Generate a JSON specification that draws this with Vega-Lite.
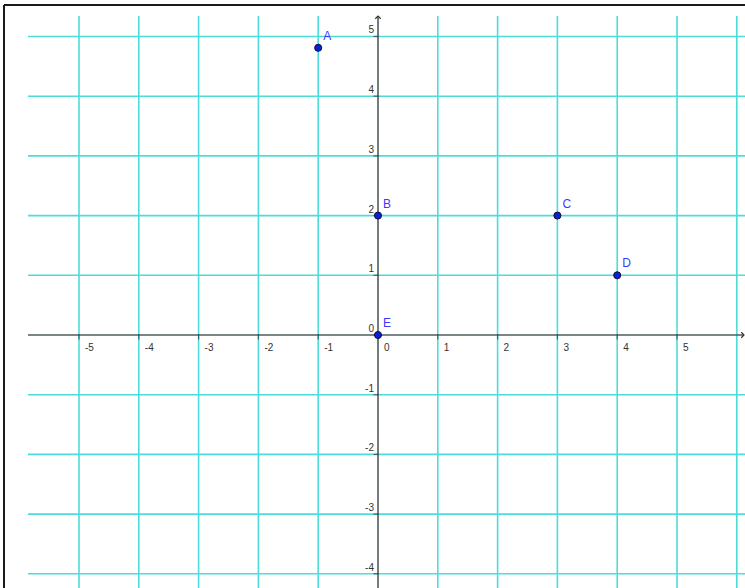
{
  "$schema": "https://vega.github.io/schema/vega-lite/v6.json",
  "width": 745,
  "height": 588,
  "autosize": {"type": "none"},
  "padding": 0,
  "background": "white",
  "config": {"view": {"stroke": null}},
  "datasets": {
    "vgrid": [
      {"x": -5, "y1": -4.3, "y2": 5.343}, {"x": -4, "y1": -4.3, "y2": 5.343},
      {"x": -3, "y1": -4.3, "y2": 5.343}, {"x": -2, "y1": -4.3, "y2": 5.343},
      {"x": -1, "y1": -4.3, "y2": 5.343}, {"x": 1, "y1": -4.3, "y2": 5.343},
      {"x": 2, "y1": -4.3, "y2": 5.343}, {"x": 3, "y1": -4.3, "y2": 5.343},
      {"x": 4, "y1": -4.3, "y2": 5.343}, {"x": 5, "y1": -4.3, "y2": 5.343},
      {"x": 6, "y1": -4.3, "y2": 5.343}
    ],
    "hgrid": [
      {"y": -4, "x1": -5.853, "x2": 6.3}, {"y": -3, "x1": -5.853, "x2": 6.3},
      {"y": -2, "x1": -5.853, "x2": 6.3}, {"y": -1, "x1": -5.853, "x2": 6.3},
      {"y": 1, "x1": -5.853, "x2": 6.3}, {"y": 2, "x1": -5.853, "x2": 6.3},
      {"y": 3, "x1": -5.853, "x2": 6.3}, {"y": 4, "x1": -5.853, "x2": 6.3},
      {"y": 5, "x1": -5.853, "x2": 6.3}
    ],
    "xaxis": [{"y": 0, "x1": -5.853, "x2": 6.12}],
    "yaxis": [{"x": 0, "y1": -4.3, "y2": 5.343}],
    "xarrow": [{"x": 6.12, "y": 0}],
    "yarrow": [{"x": 0, "y": 5.343}],
    "xticks": [
      {"x": -5, "label": "-5"}, {"x": -4, "label": "-4"}, {"x": -3, "label": "-3"},
      {"x": -2, "label": "-2"}, {"x": -1, "label": "-1"}, {"x": 0, "label": "0"},
      {"x": 1, "label": "1"}, {"x": 2, "label": "2"}, {"x": 3, "label": "3"},
      {"x": 4, "label": "4"}, {"x": 5, "label": "5"}
    ],
    "yticks": [
      {"y": -4, "label": "-4"}, {"y": -3, "label": "-3"}, {"y": -2, "label": "-2"},
      {"y": -1, "label": "-1"}, {"y": 0, "label": "0"}, {"y": 1, "label": "1"},
      {"y": 2, "label": "2"}, {"y": 3, "label": "3"}, {"y": 4, "label": "4"},
      {"y": 5, "label": "5"}
    ],
    "frameTop": [{"y": 5.528, "x1": -6.254, "x2": 6.3}],
    "frameLeft": [{"x": -6.254, "y1": -4.3, "y2": 5.528}],
    "points": [
      {"name": "A", "x": -1, "y": 4.81},
      {"name": "B", "x": 0, "y": 2},
      {"name": "C", "x": 3, "y": 2},
      {"name": "D", "x": 4, "y": 1},
      {"name": "E", "x": 0, "y": 0}
    ]
  },
  "encoding": {},
  "layer": [
    {
      "data": {"name": "vgrid"},
      "mark": {"type": "rule", "color": "#4ddcdc", "strokeWidth": 1.6},
      "encoding": {
        "x": {"field": "x", "type": "quantitative", "scale": {"domain": [-6.321, 6.137], "zero": false, "nice": false}, "axis": null},
        "y": {"field": "y1", "type": "quantitative", "scale": {"domain": [-4.238, 5.611], "zero": false, "nice": false}, "axis": null},
        "y2": {"field": "y2"}
      }
    },
    {
      "data": {"name": "hgrid"},
      "mark": {"type": "rule", "color": "#4ddcdc", "strokeWidth": 1.6},
      "encoding": {
        "x": {"field": "x1", "type": "quantitative"},
        "x2": {"field": "x2"},
        "y": {"field": "y", "type": "quantitative"}
      }
    },
    {
      "data": {"name": "frameTop"},
      "mark": {"type": "rule", "color": "#1a1a1a", "strokeWidth": 2},
      "encoding": {
        "x": {"field": "x1", "type": "quantitative"},
        "x2": {"field": "x2"},
        "y": {"field": "y", "type": "quantitative"}
      }
    },
    {
      "data": {"name": "frameLeft"},
      "mark": {"type": "rule", "color": "#1a1a1a", "strokeWidth": 2},
      "encoding": {
        "x": {"field": "x", "type": "quantitative"},
        "y": {"field": "y1", "type": "quantitative"},
        "y2": {"field": "y2"}
      }
    },
    {
      "data": {"name": "xaxis"},
      "mark": {"type": "rule", "color": "#4f5c5c", "strokeWidth": 1.6},
      "encoding": {
        "x": {"field": "x1", "type": "quantitative"},
        "x2": {"field": "x2"},
        "y": {"field": "y", "type": "quantitative"}
      }
    },
    {
      "data": {"name": "yaxis"},
      "mark": {"type": "rule", "color": "#4f5c5c", "strokeWidth": 1.6},
      "encoding": {
        "x": {"field": "x", "type": "quantitative"},
        "y": {"field": "y1", "type": "quantitative"},
        "y2": {"field": "y2"}
      }
    },
    {
      "data": {"name": "xarrow"},
      "mark": {"type": "point", "shape": "M-1,-1L0,0L-1,1", "filled": false, "stroke": "#333", "strokeWidth": 1.2, "size": 30, "opacity": 1},
      "encoding": {
        "x": {"field": "x", "type": "quantitative"},
        "y": {"field": "y", "type": "quantitative"}
      }
    },
    {
      "data": {"name": "yarrow"},
      "mark": {"type": "point", "shape": "M-1,1L0,0L1,1", "filled": false, "stroke": "#333", "strokeWidth": 1.2, "size": 30, "opacity": 1},
      "encoding": {
        "x": {"field": "x", "type": "quantitative"},
        "y": {"field": "y", "type": "quantitative"}
      }
    },
    {
      "data": {"name": "xticks"},
      "mark": {"type": "tick", "orient": "vertical", "color": "#333", "size": 5, "thickness": 1.2, "yOffset": 2},
      "encoding": {
        "x": {"field": "x", "type": "quantitative"},
        "y": {"datum": 0, "type": "quantitative"}
      }
    },
    {
      "data": {"name": "yticks"},
      "mark": {"type": "tick", "orient": "horizontal", "color": "#333", "size": 5, "thickness": 1.2, "xOffset": -2},
      "encoding": {
        "y": {"field": "y", "type": "quantitative"},
        "x": {"datum": 0, "type": "quantitative"}
      }
    },
    {
      "data": {"name": "xticks"},
      "mark": {"type": "text", "align": "left", "baseline": "middle", "dx": 6, "dy": 13, "fontSize": 10, "font": "Liberation Sans", "color": "#333333"},
      "encoding": {
        "x": {"field": "x", "type": "quantitative"},
        "y": {"datum": 0, "type": "quantitative"},
        "text": {"field": "label"}
      }
    },
    {
      "data": {"name": "yticks"},
      "mark": {"type": "text", "align": "right", "baseline": "middle", "dx": -4, "dy": -6, "fontSize": 10, "font": "Liberation Sans", "color": "#333333"},
      "encoding": {
        "x": {"datum": 0, "type": "quantitative"},
        "y": {"field": "y", "type": "quantitative"},
        "text": {"field": "label"}
      }
    },
    {
      "data": {"name": "points"},
      "mark": {"type": "point", "shape": "circle", "filled": true, "fill": "#0a1ee0", "stroke": "#101030", "strokeWidth": 1, "size": 50, "opacity": 1},
      "encoding": {
        "x": {"field": "x", "type": "quantitative"},
        "y": {"field": "y", "type": "quantitative"}
      }
    },
    {
      "data": {"name": "points"},
      "mark": {"type": "text", "align": "left", "baseline": "middle", "dx": 5, "dy": -12, "fontSize": 12, "font": "Liberation Sans", "color": "#3a3aff"},
      "encoding": {
        "x": {"field": "x", "type": "quantitative"},
        "y": {"field": "y", "type": "quantitative"},
        "text": {"field": "name"}
      }
    }
  ]
}
